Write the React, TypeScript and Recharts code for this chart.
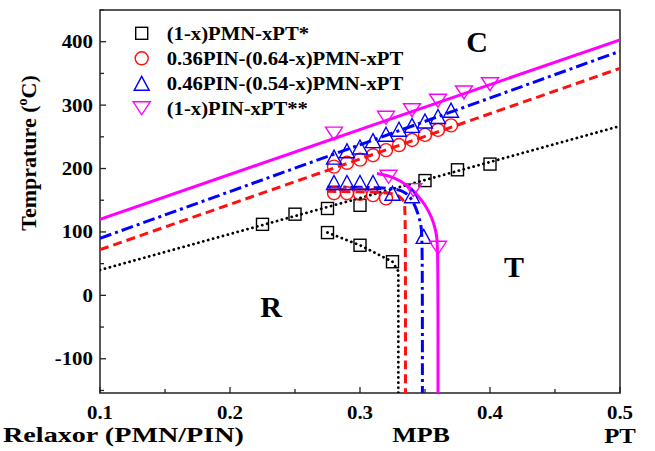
import React from 'react';
import {
  ComposedChart,
  Line,
  Scatter,
  XAxis,
  YAxis,
  ReferenceDot,
  ReferenceArea,
  Legend,
} from 'recharts';

const W = 655;
const H = 451;
const X_MIN = 0.1;
const X_MAX = 0.5;
const Y_MIN = -154;
const Y_MAX = 450;

// ---- ticks ----
const xTicks = [0.1, 0.15, 0.2, 0.25, 0.3, 0.35, 0.4, 0.45, 0.5];
const xTickLabels = ['0.1', '0.2', '0.3', '0.4', '0.5'];
const yTicks = [-150, -100, -50, 0, 50, 100, 150, 200, 250, 300, 350, 400, 450];
const yTickLabels = ['-100', '0', '100', '200', '300', '400'];

// ---- series names ----
const seriesNames = [
  '(1-x)PMN-xPT*',
  '0.36PIN-(0.64-x)PMN-xPT',
  '0.46PIN-(0.54-x)PMN-xPT',
  '(1-x)PIN-xPT**',
];

// ---- (1-x)PMN-xPT* (black squares) ----
const pmnUpper = [
  { x: 0.225, y: 112 },
  { x: 0.25, y: 128 },
  { x: 0.275, y: 137 },
  { x: 0.3, y: 142 },
  { x: 0.35, y: 181 },
  { x: 0.375, y: 198 },
  { x: 0.4, y: 207 },
];
const pmnLower = [
  { x: 0.275, y: 99 },
  { x: 0.3, y: 79 },
  { x: 0.325, y: 53 },
];
const pmnTcLine = [
  { x: 0.1, y: 40 },
  { x: 0.5, y: 267 },
];
const pmnMpbLine = [
  { x: 0.275, y: 99 },
  { x: 0.3, y: 79 },
  { x: 0.325, y: 53 },
  { x: 0.3295, y: 38 },
  { x: 0.3295, y: Y_MIN },
];

// ---- 0.36PIN-(0.64-x)PMN-xPT (red circles) ----
const pin36Upper = [
  { x: 0.28, y: 203 },
  { x: 0.29, y: 209 },
  { x: 0.3, y: 214 },
  { x: 0.31, y: 221 },
  { x: 0.32, y: 229 },
  { x: 0.33, y: 237 },
  { x: 0.34, y: 245 },
  { x: 0.35, y: 253 },
  { x: 0.36, y: 261 },
  { x: 0.37, y: 268 },
];
const pin36Lower = [
  { x: 0.28, y: 161 },
  { x: 0.29, y: 161 },
  { x: 0.3, y: 160 },
  { x: 0.31, y: 158 },
  { x: 0.32, y: 153 },
];
const pin36TcLine = [
  { x: 0.1, y: 72 },
  { x: 0.5, y: 358 },
];
const pin36MpbLine = [
  { x: 0.275, y: 164 },
  { x: 0.31, y: 163 },
  { x: 0.325, y: 161 },
  { x: 0.331, y: 156 },
  { x: 0.334, y: 148 },
  { x: 0.335, y: 138 },
  { x: 0.335, y: Y_MIN },
];

// ---- 0.46PIN-(0.54-x)PMN-xPT (blue triangles) ----
const pin46Upper = [
  { x: 0.28, y: 218 },
  { x: 0.29, y: 228 },
  { x: 0.3, y: 234 },
  { x: 0.31, y: 244 },
  { x: 0.32, y: 254 },
  { x: 0.33, y: 262 },
  { x: 0.34, y: 268 },
  { x: 0.35, y: 275 },
  { x: 0.36, y: 282 },
  { x: 0.37, y: 292 },
];
const pin46Lower = [
  { x: 0.28, y: 178 },
  { x: 0.29, y: 178 },
  { x: 0.3, y: 178 },
  { x: 0.31, y: 178 },
  { x: 0.325, y: 161 },
  { x: 0.34, y: 157 },
  { x: 0.349, y: 93 },
];
const pin46TcLine = [
  { x: 0.1, y: 90 },
  { x: 0.5, y: 385 },
];
const pin46MpbLine = [
  { x: 0.275, y: 171 },
  { x: 0.32, y: 170 },
  { x: 0.333, y: 166 },
  { x: 0.339, y: 155 },
  { x: 0.3436, y: 136 },
  { x: 0.347, y: 112 },
  { x: 0.348, y: 92 },
  { x: 0.348, y: Y_MIN },
];

// ---- (1-x)PIN-xPT** (magenta down triangles) ----
const pinUpper = [
  { x: 0.28, y: 255 },
  { x: 0.32, y: 280 },
  { x: 0.34, y: 292 },
  { x: 0.36, y: 307 },
  { x: 0.38, y: 320 },
  { x: 0.4, y: 333 },
];
const pinLower = [
  { x: 0.322, y: 187 },
  { x: 0.341, y: 166 },
  { x: 0.36, y: 75 },
];
const pinTcLine = [
  { x: 0.1, y: 120 },
  { x: 0.5, y: 403 },
];
const pinMpbLine = [
  { x: 0.313, y: 192 },
  { x: 0.325, y: 188 },
  { x: 0.338, y: 172 },
  { x: 0.347, y: 152 },
  { x: 0.353, y: 133 },
  { x: 0.357, y: 113 },
  { x: 0.359, y: 95 },
  { x: 0.36, y: 75 },
  { x: 0.36, y: Y_MIN },
];

// ---- phase region labels ----
const regionLabels = [
  { text: 'C', x: 0.39, y: 400 },
  { text: 'R', x: 0.2316, y: -17 },
  { text: 'T', x: 0.4185, y: 45 },
];

const FONT = "'Liberation Serif', 'Times New Roman', serif";
const BLACK = '#000000';
const RED = '#ff1010';
const BLUE = '#0000ff';
const MAGENTA = '#ff00ff';

type STProps = {
  x: number;
  y: number;
  size: number;
  anchor?: 'start' | 'middle' | 'end';
  sx?: number;
  children: React.ReactNode;
};
const ST = ({ x, y, size, anchor = 'start', sx = 1, children }: STProps) => (
  <text
    transform={`translate(${x},${y}) scale(${sx},1)`}
    x={0}
    y={0}
    textAnchor={anchor}
    fontFamily={FONT}
    fontWeight="bold"
    fontSize={size}
    fill="#000"
  >
    {children}
  </text>
);

type Kind = 'square' | 'circle' | 'up' | 'down';
const Marker = ({ kind, cx, cy }: { kind: Kind; cx: number; cy: number }) => {
  if (kind === 'square') {
    return (
      <rect x={cx - 6} y={cy - 6} width={12} height={12} fill="none" stroke={BLACK} strokeWidth={1.4} />
    );
  }
  if (kind === 'circle') {
    return <circle cx={cx} cy={cy} r={6.5} fill="none" stroke={RED} strokeWidth={1.4} />;
  }
  if (kind === 'up') {
    const w = 15;
    const h = 14;
    return (
      <path
        d={`M${cx},${cy - h / 2} L${cx + w / 2},${cy + h / 2} L${cx - w / 2},${cy + h / 2} Z`}
        fill="none"
        stroke={BLUE}
        strokeWidth={1.4}
      />
    );
  }
  const w = 17;
  const h = 13;
  return (
    <path
      d={`M${cx - w / 2},${cy - h / 2} L${cx + w / 2},${cy - h / 2} L${cx},${cy + h / 2} Z`}
      fill="none"
      stroke={MAGENTA}
      strokeWidth={1.4}
    />
  );
};

const kinds: Kind[] = ['square', 'circle', 'up', 'down'];

const shapeOf = (kind: Kind) => (p: any) => <Marker kind={kind} cx={p.cx} cy={p.cy} />;

const fmtX = (v: number) => v.toFixed(1);

const XTick = (p: any) => {
  const v: number = p.payload.value;
  const label = fmtX(v);
  const major = xTickLabels.includes(label) && Math.abs(v * 10 - Math.round(v * 10)) < 1e-6;
  return (
    <g>
      <line x1={p.x} x2={p.x} y1={p.y} y2={p.y - (major ? 6 : 4)} stroke="#222" strokeWidth={1.3} />
      {major && (
        <ST x={p.x} y={p.y + 26} size={19} anchor="middle" sx={1.1}>
          {label}
        </ST>
      )}
    </g>
  );
};

const YTick = (p: any) => {
  const v: number = p.payload.value;
  const label = String(v);
  const major = yTickLabels.includes(label);
  return (
    <g>
      <line x1={p.x} x2={p.x + (major ? 6 : 4)} y1={p.y} y2={p.y} stroke="#222" strokeWidth={1.3} />
      {major && (
        <ST x={p.x - 7} y={p.y + 6.5} size={19} anchor="end" sx={1.1}>
          {label}
        </ST>
      )}
    </g>
  );
};

const XTitles = () => (
  <g>
    <ST x={3} y={442} size={22} sx={1.28}>
      Relaxor (PMN/PIN)
    </ST>
    <ST x={421} y={442} size={22} anchor="middle" sx={1.18}>
      MPB
    </ST>
    <ST x={620} y={443} size={21} anchor="middle" sx={1.18}>
      PT
    </ST>
  </g>
);

const YTitle = () => (
  <text
    transform="translate(36,153) rotate(-90)"
    x={0}
    y={0}
    textAnchor="middle"
    fontFamily={FONT}
    fontWeight="bold"
    fontSize={22}
    fill="#000"
  >
    Temprature (
    <tspan fontSize={14} dy={-9}>
      o
    </tspan>
    <tspan dy={9}>C)</tspan>
  </text>
);

const LegendSvg = () => (
  <svg width={W} height={H} style={{ position: 'absolute', left: 0, top: 0, pointerEvents: 'none' }}>
    {seriesNames.map((name, i) => {
      const cy = 33.3 + 25 * i;
      return (
        <g key={name}>
          <Marker kind={kinds[i]} cx={141.7} cy={cy} />
          <ST x={166.7} y={cy + 6.3} size={18} sx={1.15}>
            {name}
          </ST>
        </g>
      );
    })}
  </svg>
);

const RegionLabel = (text: string) => (p: any) => (
  <text
    x={p.cx}
    y={p.cy + 10.5}
    textAnchor="middle"
    fontFamily={FONT}
    fontWeight="bold"
    fontSize={30}
    fill="#000"
  >
    {text}
  </text>
);

export default function App() {
  return (
    <div style={{ position: 'absolute', left: 0, top: 0, width: W, height: H, background: '#fff' }}>
      <ComposedChart width={W} height={H} margin={{ top: 10, right: 35, bottom: 0, left: 0 }}>
        <XAxis
          type="number"
          dataKey="x"
          domain={[X_MIN, X_MAX]}
          ticks={xTicks}
          interval={0}
          allowDataOverflow
          height={58}
          axisLine={false}
          tickLine={false}
          tickSize={0}
          tickMargin={0}
          tick={XTick}
          label={{ content: () => <XTitles /> }}
        />
        <YAxis
          type="number"
          dataKey="y"
          domain={[Y_MIN, Y_MAX]}
          ticks={yTicks}
          interval={0}
          allowDataOverflow
          width={100}
          axisLine={false}
          tickLine={false}
          tickSize={0}
          tickMargin={0}
          tick={YTick}
          label={{ content: () => <YTitle /> }}
        />
        <ReferenceArea
          x1={X_MIN}
          x2={X_MAX}
          y1={Y_MIN}
          y2={Y_MAX}
          fill="none"
          fillOpacity={0}
          stroke="#222"
          strokeWidth={1.5}
        />

        <Line data={pmnTcLine} dataKey="y" type="linear" stroke={BLACK} strokeWidth={2.8} strokeDasharray="0.1 5" strokeLinecap="round" dot={false} activeDot={false} isAnimationActive={false} legendType="none" />
        <Line data={pmnMpbLine} dataKey="y" type="linear" stroke={BLACK} strokeWidth={2.8} strokeDasharray="0.1 5" strokeLinecap="round" dot={false} activeDot={false} isAnimationActive={false} legendType="none" />
        <Line data={pin36TcLine} dataKey="y" type="linear" stroke={RED} strokeWidth={3} strokeDasharray="9 5" dot={false} activeDot={false} isAnimationActive={false} legendType="none" />
        <Line data={pin36MpbLine} dataKey="y" type="basis" stroke={RED} strokeWidth={3} strokeDasharray="9 5" dot={false} activeDot={false} isAnimationActive={false} legendType="none" />
        <Line data={pin46TcLine} dataKey="y" type="linear" stroke={BLUE} strokeWidth={3} strokeDasharray="12 4 3 4" dot={false} activeDot={false} isAnimationActive={false} legendType="none" />
        <Line data={pin46MpbLine} dataKey="y" type="basis" stroke={BLUE} strokeWidth={3} strokeDasharray="12 4 3 4" dot={false} activeDot={false} isAnimationActive={false} legendType="none" />
        <Line data={pinTcLine} dataKey="y" type="linear" stroke={MAGENTA} strokeWidth={3} dot={false} activeDot={false} isAnimationActive={false} legendType="none" />
        <Line data={pinMpbLine} dataKey="y" type="basis" stroke={MAGENTA} strokeWidth={3} dot={false} activeDot={false} isAnimationActive={false} legendType="none" />

        <Scatter name={seriesNames[0]} data={pmnUpper} shape={shapeOf('square')} isAnimationActive={false} />
        <Scatter name={seriesNames[0] + ' '} data={pmnLower} shape={shapeOf('square')} isAnimationActive={false} />
        <Scatter name={seriesNames[1]} data={pin36Upper} shape={shapeOf('circle')} isAnimationActive={false} />
        <Scatter name={seriesNames[1] + ' '} data={pin36Lower} shape={shapeOf('circle')} isAnimationActive={false} />
        <Scatter name={seriesNames[2]} data={pin46Upper} shape={shapeOf('up')} isAnimationActive={false} />
        <Scatter name={seriesNames[2] + ' '} data={pin46Lower} shape={shapeOf('up')} isAnimationActive={false} />
        <Scatter name={seriesNames[3]} data={pinUpper} shape={shapeOf('down')} isAnimationActive={false} />
        <Scatter name={seriesNames[3] + ' '} data={pinLower} shape={shapeOf('down')} isAnimationActive={false} />

        {regionLabels.map((r) => (
          <ReferenceDot key={r.text} x={r.x} y={r.y} r={0} shape={RegionLabel(r.text)} />
        ))}

        <Legend
          layout="vertical"
          align="center"
          verticalAlign="middle"
          content={() => <LegendSvg />}
          wrapperStyle={{ left: 0, top: 0, width: W, height: H, pointerEvents: 'none' }}
        />
      </ComposedChart>
    </div>
  );
}
